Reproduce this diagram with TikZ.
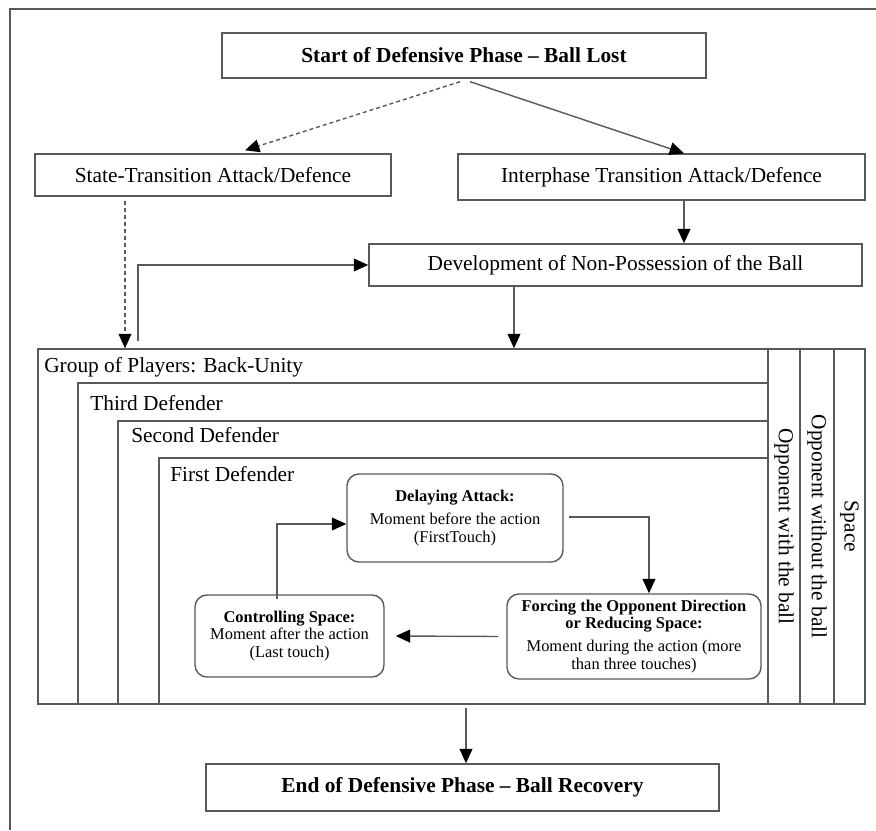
\documentclass[tikz,border=0pt]{standalone}
\usepackage{fontspec}
\setmainfont{Liberation Serif}
\usepackage{tikz}
\usetikzlibrary{arrows.meta}
\usetikzlibrary{calc}
\newcommand\diagfont{\fontsize{15.2pt}{18pt}\selectfont}
\newcommand\notefont{\fontsize{11.7pt}{12.4pt}\selectfont}
\tikzset{
  >={Triangle[length=0.36cm,width=0.32cm,color=black]},
  edgeline/.style={draw=black!65, line width=1pt},
  phasebox/.style={
    rectangle, edgeline, inner sep=0pt,
    font=\diagfont\bfseries
  },
  stagebox/.style={
    rectangle, edgeline, inner sep=0pt,
    font=\diagfont
  },
  momentbox/.style={
    rectangle, edgeline, rounded corners=0.3cm, inner sep=0pt,
    align=center, font=\notefont
  },
  flow/.style={->, edgeline},
  dashedflow/.style={flow, dash pattern=on 0.1cm off 0.075cm},
  layerlabel/.style={anchor=base west, inner sep=0pt, font=\diagfont},
  sidelabel/.style={rotate=-90, inner sep=0pt, font=\diagfont}
}

\begin{document}
\begin{tikzpicture}[x=0.025cm, y=-0.025cm]
    \useasboundingbox (0,0) rectangle (876,830);
    \draw [edgeline] (10,830) -- (10,9) -- (876,9);

    % phases and transitions
    \node [phasebox, minimum width=12.1cm, minimum height=1.125cm]
      (start) at (464,55.5) {Start of Defensive Phase -- Ball Lost};
    \node [stagebox, minimum width=8.9cm, minimum height=1.05cm]
      (state) at (213,175) {State-Transition Attack/Defence};
    \node [stagebox, minimum width=10.175cm, minimum height=1.15cm]
      (inter) at (661.5,177) {Interphase Transition Attack/Defence};
    \node [stagebox, minimum width=12.325cm, minimum height=1.05cm]
      (devel) at (615.5,265) {Development of Non-Possession of the Ball};
    \node [phasebox, minimum width=12.825cm, minimum height=1.175cm]
      (finish) at (462.5,787.5) {End of Defensive Phase -- Ball Recovery};

    % nested layers
    \node [rectangle, edgeline, minimum width=20.675cm, minimum height=8.875cm]
      (group) at (451.5,526.5) {};
    \foreach \x/\y in {78/383, 118/421, 159/458}
      \draw [edgeline] (\x,704) |- (768,\y);
    \foreach \x in {768, 800, 834}
      \draw [edgeline] (\x,349) -- (\x,704);

    \node [layerlabel] (lgroup)  at (44,372)  {Group of Players: Back-Unity};
    \node [layerlabel] (lthird)  at (90,410)  {Third Defender};
    \node [layerlabel] (lsecond) at (131,442) {Second Defender};
    \node [layerlabel] (lfirst)  at (170,481) {First Defender};

    \node [sidelabel] (owith)    at (784,526.5) {Opponent with the ball};
    \node [sidelabel] (owithout) at (817,526.5) {Opponent without the ball};
    \node [sidelabel] (space)    at (849.5,526.5) {Space};

    % moments of the first defender
    \node [momentbox, minimum width=5.4cm, minimum height=2.2cm]
      (delay) at (455,518)
      {\textbf{Delaying Attack:}\\[4pt] Moment before the action\\ (FirstTouch)};
    \node [momentbox, minimum width=6.35cm, minimum height=2.125cm]
      (force) at (634,636.5)
      {\textbf{Forcing the Opponent Direction}\\ \textbf{or Reducing Space:}\\[4pt]
       Moment during the action (more\\ than three touches)};
    \node [momentbox, minimum width=4.725cm, minimum height=2.05cm]
      (ctrl) at (289.5,636)
      {\textbf{Controlling Space:}\\ Moment after the action\\ (Last touch)};

    % connectors
    \draw [dashedflow] ($(start.south)+(-4,3)$) -- ($(state.north)+(32,-3)$);
    \draw [flow] ($(start.south)+(6,3)$) -- ($(inter.north)+(22.5,0)$);
    \draw [flow] ($(inter.south)+(22.5,0)$) coordinate (i1) -- (i1 |- devel.north);
    \draw [dashedflow] ($(state.south)+(-88,4)$) coordinate (s1) -- (s1 |- group.north);
    \draw [flow] ($(group.north west)+(101,-7)$) |- (devel.west);
    \draw [flow] ($(devel.south)+(-101.5,0)$) coordinate (d1) -- (d1 |- group.north);
    \draw [flow] ($(group.south)+(14.5,3)$) coordinate (g1) -- (g1 |- finish.north);

    \draw [flow] ($(delay.east)+(5,-1)$) -| ($(force.north)+(15,0)$);
    \draw [flow] ($(force.west)+(-8,0)$) -- ($(ctrl.east)+(11,0)$);
    \draw [flow] ($(ctrl.north)+(-12.5,5)$) |- ($(delay.west)+(0,6)$);
\end{tikzpicture}
\end{document}
